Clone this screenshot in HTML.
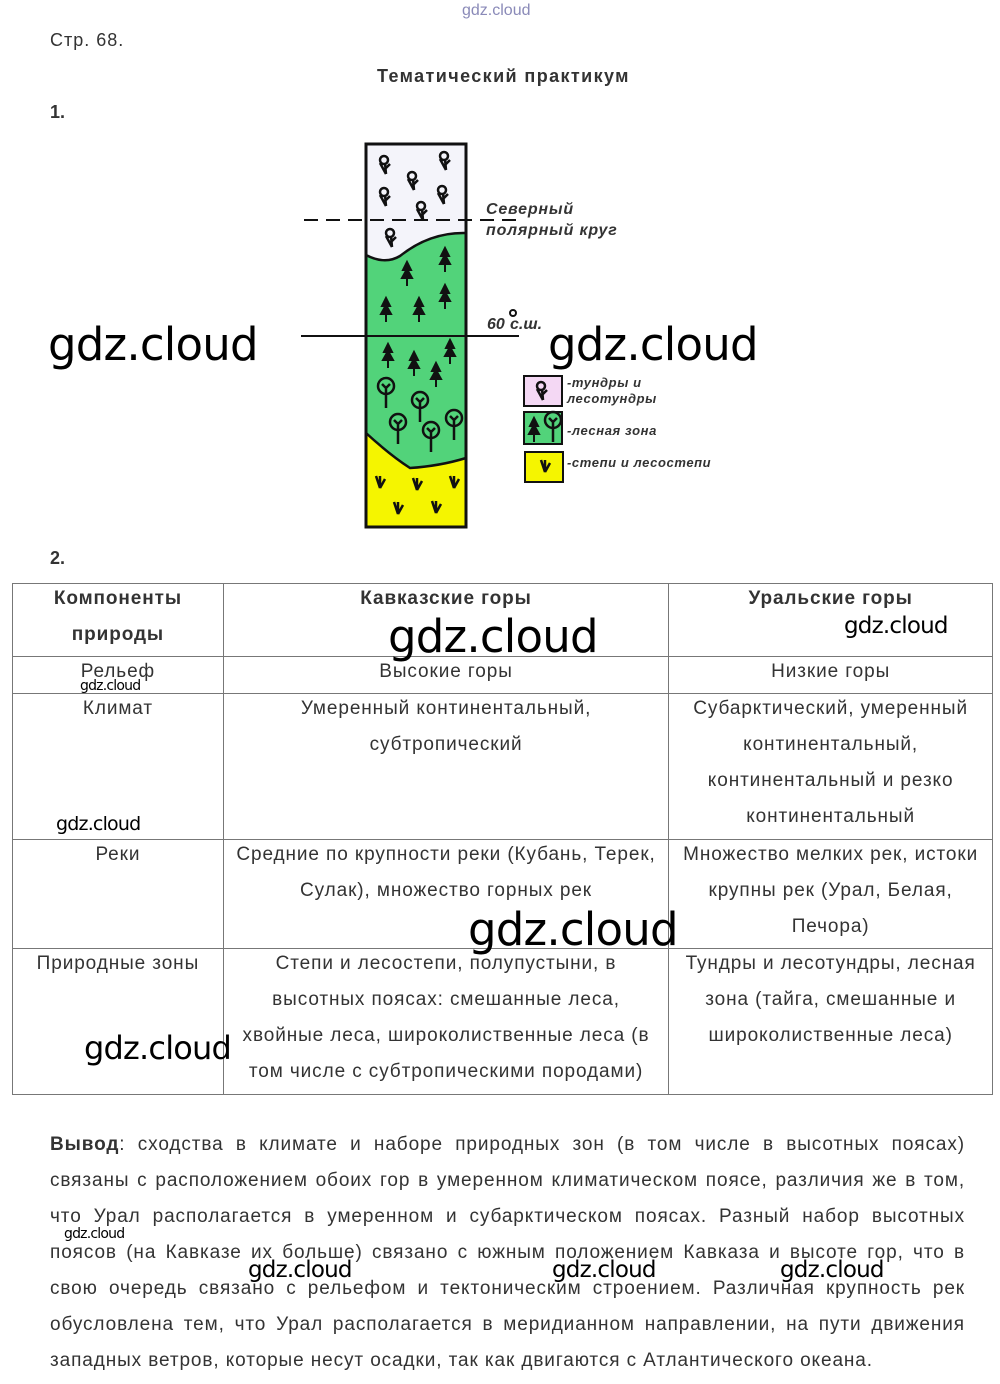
<!DOCTYPE html>
<html><head><meta charset="utf-8"><style>
body{margin:0;width:1000px;height:1384px;background:#fff;position:relative;font-family:"Liberation Sans",sans-serif;color:#333;overflow:hidden}
.a{position:absolute;white-space:nowrap}
.wm{position:absolute;font-family:"DejaVu Sans","Liberation Sans",sans-serif;color:#000;white-space:nowrap;letter-spacing:-0.8px}
table{position:absolute;left:12px;top:583px;border-collapse:collapse;width:981px;font-size:19px;letter-spacing:0.9px}
td{border:1px solid #777;vertical-align:top;text-align:center;line-height:36px;padding:0 2px;color:#333}
th{border:1px solid #777;vertical-align:top;font-weight:bold;line-height:36px;padding:0;color:#333}
td div,th div{margin-top:-3px}
.p{position:absolute;left:50px;top:1127px;width:915px;font-size:19px;line-height:36px;text-align:justify;color:#333;letter-spacing:0.9px}
</style></head><body>
<div class="a" style="left:462px;top:2px;font-size:16px;color:#8a8ab8">gdz.cloud</div>
<div class="a" style="left:50px;top:30px;font-size:18px;letter-spacing:1px">Стр. 68.</div>
<div class="a" style="left:377px;top:66px;font-size:18px;font-weight:bold;letter-spacing:1.4px">Тематический практикум</div>
<div class="a" style="left:50px;top:102px;font-size:18px;font-weight:bold">1.</div>
<div class="a" style="left:50px;top:548px;font-size:18px;font-weight:bold">2.</div>

<svg class="a" style="left:0;top:0" width="1000" height="540" font-family="Liberation Sans,sans-serif">
<defs>
<g id="tu" fill="none" stroke="#111" stroke-width="2.5"><circle cx="0" cy="-4" r="4"/><path d="M-4 -1 L2 10 M2 10 L1 -1 M2 4 L6 0"/></g>
<g id="fir" fill="#111" stroke="#111" stroke-width="2"><path d="M0 -12 L-4 -4 L4 -4Z M0 -5 L-5 4 L5 4Z M0 12 L0 -10"/></g>
<g id="oak" fill="none" stroke="#111" stroke-width="2.5"><circle cx="0" cy="-6" r="8"/><path d="M0 -6 L0 16 M0 -4 L-4 -8 M0 -4 L4 -8"/></g>
<g id="gr" fill="none" stroke="#111" stroke-width="2.5"><path d="M-4 -6 L0 6 L0 -6 M0 6 L5 -3"/></g>
</defs>
<rect x="366" y="144" width="100" height="383" fill="#f4f4fa"/>
<path d="M366 255 Q385 265 400 256 Q430 232 466 233 L466 527 L366 527Z" fill="#52d37a"/>
<path d="M366 433 Q390 455 410 468 Q440 466 466 458 L466 527 L366 527Z" fill="#f5f500"/>
<path d="M366 255 Q385 265 400 256 Q430 232 466 233 M366 433 Q390 455 410 468 Q440 466 466 458" fill="none" stroke="#111" stroke-width="2.5"/>
<rect x="366" y="144" width="100" height="383" fill="none" stroke="#111" stroke-width="3"/>
<line x1="304" y1="220" x2="522" y2="220" stroke="#111" stroke-width="2" stroke-dasharray="14,8"/>
<line x1="301" y1="336" x2="519" y2="336" stroke="#111" stroke-width="2"/>
<use href="#tu" x="384" y="164"/><use href="#tu" x="444" y="160"/><use href="#tu" x="412" y="180"/>
<use href="#tu" x="384" y="196"/><use href="#tu" x="442" y="194"/><use href="#tu" x="421" y="210"/><use href="#tu" x="390" y="237"/>
<use href="#fir" x="445" y="260"/><use href="#fir" x="407" y="274"/><use href="#fir" x="445" y="297"/>
<use href="#fir" x="386" y="310"/><use href="#fir" x="419" y="310"/>
<use href="#fir" x="388" y="356"/><use href="#fir" x="414" y="364"/><use href="#fir" x="450" y="352"/><use href="#fir" x="436" y="375"/>
<use href="#oak" x="386" y="392"/><use href="#oak" x="420" y="406"/><use href="#oak" x="398" y="428"/><use href="#oak" x="431" y="436"/><use href="#oak" x="454" y="424"/>
<use href="#gr" x="380" y="482"/><use href="#gr" x="417" y="484"/><use href="#gr" x="454" y="482"/><use href="#gr" x="398" y="508"/><use href="#gr" x="436" y="507"/>
<text x="486" y="214" font-size="16" font-style="italic" font-weight="bold" fill="#333" letter-spacing="0.8">Северный</text>
<text x="486" y="235" font-size="16" font-style="italic" font-weight="bold" fill="#333" letter-spacing="0.8">полярный круг</text>
<text x="487" y="329" font-size="16" font-style="italic" font-weight="bold" fill="#333">60</text>
<circle cx="513" cy="313" r="3" fill="none" stroke="#111" stroke-width="2"/>
<text x="510" y="329" font-size="16" font-style="italic" font-weight="bold" fill="#333">с.ш.</text>
<rect x="524" y="376" width="38" height="30" fill="#f4d8f4" stroke="#111" stroke-width="2"/>
<use href="#tu" x="541" y="390"/>
<rect x="524" y="412" width="38" height="32" fill="#52d37a" stroke="#111" stroke-width="2"/>
<use href="#fir" x="534" y="430"/><use href="#oak" x="553" y="426"/>
<rect x="525" y="452" width="38" height="30" fill="#f5f500" stroke="#111" stroke-width="2"/>
<use href="#gr" x="545" y="466"/>
<g font-size="13" font-style="italic" font-weight="bold" fill="#333" letter-spacing="0.6">
<text x="567" y="387">-тундры и</text><text x="567" y="403">лесотундры</text>
<text x="567" y="435">-лесная зона</text><text x="567" y="467">-степи и лесостепи</text></g>
</svg>

<table>
<colgroup><col style="width:211px"><col style="width:446px"><col style="width:324px"></colgroup>
<tr style="height:73px"><th><div>Компоненты<br>природы</div></th><th><div>Кавказские горы</div></th><th><div>Уральские горы</div></th></tr>
<tr style="height:37px"><td><div>Рельеф</div></td><td><div>Высокие горы</div></td><td><div>Низкие горы</div></td></tr>
<tr style="height:146px"><td><div>Климат</div></td><td><div>Умеренный континентальный,<br>субтропический</div></td><td><div>Субарктический, умеренный<br>континентальный,<br>континентальный и резко<br>континентальный</div></td></tr>
<tr style="height:109px"><td><div>Реки</div></td><td><div>Средние по крупности реки (Кубань, Терек,<br>Сулак), множество горных рек</div></td><td><div>Множество мелких рек, истоки<br>крупны рек (Урал, Белая,<br>Печора)</div></td></tr>
<tr style="height:146px"><td><div>Природные зоны</div></td><td><div>Степи и лесостепи, полупустыни, в<br>высотных поясах: смешанные леса,<br>хвойные леса, широколиственные леса (в<br>том числе с субтропическими породами)</div></td><td><div>Тундры и лесотундры, лесная<br>зона (тайга, смешанные и<br>широколиственные леса)</div></td></tr>
</table>

<div class="p"><b>Вывод</b>: сходства в климате и наборе природных зон (в том числе в высотных поясах) связаны с расположением обоих гор в умеренном климатическом поясе, различия же в том, что Урал располагается в умеренном и субарктическом поясах. Разный набор высотных поясов (на Кавказе их больше) связано с южным положением Кавказа и высоте гор, что в свою очередь связано с рельефом и тектоническим строением. Различная крупность рек обусловлена тем, что Урал располагается в меридианном направлении, на пути движения западных ветров, которые несут осадки, так как двигаются с Атлантического океана.</div>

<div class="wm" style="left:48px;top:318px;font-size:45px">gdz.cloud</div>
<div class="wm" style="left:548px;top:318px;font-size:45px">gdz.cloud</div>
<div class="wm" style="left:388px;top:610px;font-size:45px">gdz.cloud</div>
<div class="wm" style="left:844px;top:613px;font-size:23px">gdz.cloud</div>
<div class="wm" style="left:80px;top:678px;font-size:14px">gdz.cloud</div>
<div class="wm" style="left:56px;top:813px;font-size:19px">gdz.cloud</div>
<div class="wm" style="left:468px;top:903px;font-size:45px">gdz.cloud</div>
<div class="wm" style="left:84px;top:1029px;font-size:32px">gdz.cloud</div>
<div class="wm" style="left:64px;top:1226px;font-size:14px">gdz.cloud</div>
<div class="wm" style="left:248px;top:1257px;font-size:23px">gdz.cloud</div>
<div class="wm" style="left:552px;top:1257px;font-size:23px">gdz.cloud</div>
<div class="wm" style="left:780px;top:1257px;font-size:23px">gdz.cloud</div>
</body></html>
